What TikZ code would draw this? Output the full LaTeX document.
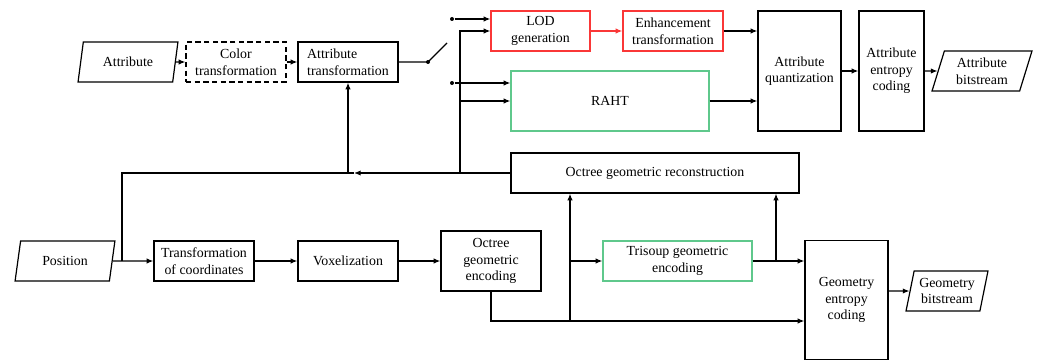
\documentclass[tikz,border=0pt]{standalone}
\usepackage{fontspec}
\setmainfont{Liberation Serif}
\usetikzlibrary{arrows.meta,positioning,shapes.geometric}
\definecolor{lodred}{RGB}{250,55,55}
\definecolor{rahtgreen}{RGB}{95,200,140}
\newcommand{\pxu}{0.75pt}

\tikzset{
  blk/.style 2 args={draw,rectangle,align=center,inner sep=1pt,
    minimum width=#1*\pxu,minimum height=#2*\pxu},
  io/.style={draw,trapezium,trapezium left angle=76,trapezium right angle=104,
    trapezium stretches=true,align=center,inner sep=1pt,
    minimum width=100*\pxu,minimum height=40*\pxu},
  dot/.style={fill,circle,inner sep=0pt,minimum size=4*\pxu}
}

\begin{document}
\begin{tikzpicture}[x=\pxu,y=-\pxu,line width=0.9pt,>={Latex[length=5pt,width=4pt]},
  font=\rmfamily\fontsize{10.4}{12.5}\selectfont]
  \useasboundingbox (0,0) rectangle (1037,360);
  % attribute branch
  \node[io] (attr) at (128,62) {Attribute};
  \node[blk={100}{40},dash pattern=on 4pt off 2.5pt] (color) at (236,62) {Color\\transformation};
  \node[blk={100}{40},align=left] (atrans) at (348,62) {Attribute\\transformation};
  \node[blk={99}{40},draw=lodred] (lod) at (540.5,31) {LOD\\generation};
  \node[blk={100}{40},draw=lodred] (enh) at (673,31) {Enhancement\\transformation};
  \node[blk={198}{60},draw=rahtgreen] (raht) at (610,101) {RAHT};
  \node[blk={83}{120}] (quant) at (799.5,71) {Attribute\\quantization};
  \node[blk={65}{120}] (aec) at (891.5,71) {Attribute\\entropy\\coding};
  \node[io,trapezium left angle=73,trapezium right angle=107] (abit) at (982,71) {Attribute\\bitstream};
  % geometry branch
  \node[io] (pos) at (65,261) {Position};
  \node[blk={100}{40}] (tc) at (204,261) {Transformation\\of coordinates};
  \node[blk={100}{40}] (vox) at (348,261) {Voxelization};
  \node[blk={100}{60}] (oct) at (491,261) {Octree\\geometric\\encoding};
  \node[blk={149}{40},draw=rahtgreen] (tri) at (677.5,261) {Trisoup geometric\\encoding};
  \node[blk={288}{40}] (rec) at (655,173) {Octree geometric reconstruction};
  \node[blk={83}{119}] (gec) at (846.5,300) {Geometry\\entropy\\coding};
  \node[io,minimum width=82*\pxu] (gbit) at (947,291) {Geometry\\bitstream};

  % junctions
  \node[dot] (sw) at (428,62) {};
  \coordinate (swend) at (447,43);
  \node[dot] (d1) at (452,19) {};
  \node[dot] (d2) at (452,83) {};
  \coordinate (bus) at (460,173);
  \coordinate (fbk) at (122,173);
  \coordinate (tip) at (354,173);
  \coordinate (gj) at (570,321);
  \coordinate (tj) at (776,261);

  \path[->]
(attr) edge (color)
(color) edge (atrans)
(d1) edge (d1 -| lod.west)
(d2) edge (d2 -| raht.west)
(bus |- raht.west) edge (raht.west)
(enh) edge (enh -| quant.west)
(raht) edge (raht -| quant.west)
(quant) edge (aec)
(aec) edge (abit)
(pos) edge (tc)
(tc) edge (vox)
(vox) edge (oct)
(gj) edge (gj |- rec.south)
(gj |- tri) edge (tri)
(tri) edge (tri -| gec.west)
(tj) edge (tj |- rec.south)
(gec.east |- gbit) edge (gbit)
;
  \draw (atrans) -- (sw.center) -- (swend);
  \draw[->] (bus) |- (lod.west);
  \draw[->,lodred] (lod) -- (enh);
  % feedback from reconstruction
  \draw[->] (rec.west) -- (tip);
  \draw (tip) -- (fbk) -- (fbk |- pos);
  \draw[->] (atrans.south |- fbk) -- (atrans.south);
  \draw[->] (oct.south) |- (gec.west |- gj);
\end{tikzpicture}
\end{document}
